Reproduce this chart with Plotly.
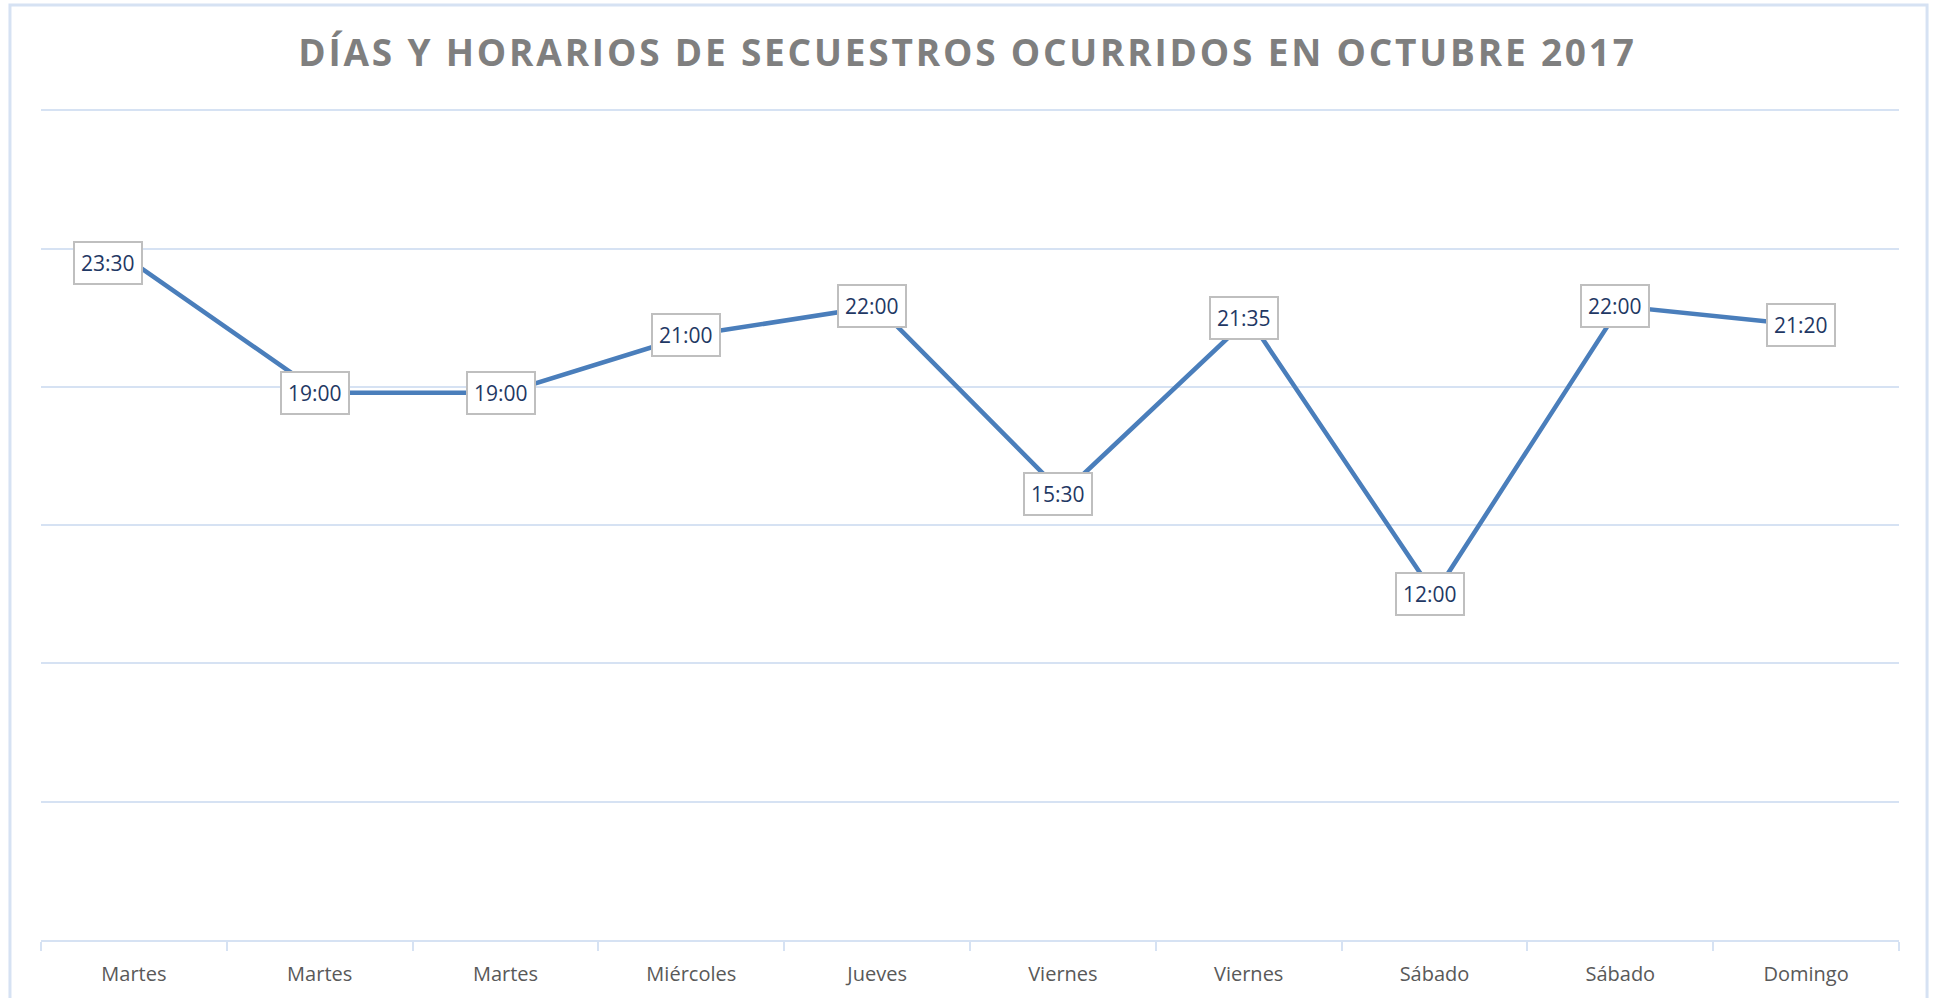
import plotly.graph_objects as go

# days and times of each kidnapping, Oct 2017
dias = ["Martes", "Martes", "Martes", "Miércoles", "Jueves",
        "Viernes", "Viernes", "Sábado", "Sábado", "Domingo"]
horas = ["23:30", "19:00", "19:00", "21:00", "22:00",
         "15:30", "21:35", "12:00", "22:00", "21:20"]

titulo = "DÍAS Y HORARIOS DE SECUESTROS OCURRIDOS EN OCTUBRE 2017"


def a_fraccion_dia(h):
    # Excel stores times as a fraction of a day
    hh, mm = h.split(":")
    return (int(hh) + int(mm) / 60) / 24


x = list(range(len(dias)))
y = [a_fraccion_dia(h) for h in horas]

fig = go.Figure(go.Scatter(
    x=x, y=y,
    mode="lines",
    line=dict(color="#4a7ebb", width=4.5),
    hoverinfo="skip",
))

for i, (xi, yi) in enumerate(zip(x, y)):
    fig.add_annotation(
        x=xi, y=yi, text=horas[i],
        showarrow=False,
        xshift=-26 if i == 0 else -5,
        font=dict(family="Open Sans", size=21, color="#1f3864"),
        bgcolor="white",
        bordercolor="#bfbfbf",
        borderwidth=2,
        borderpad=6,
    )

# light outer frame of the chart
fig.add_shape(type="rect", xref="paper", yref="paper",
              x0=-0.0167, x1=1.0151, y0=-0.1, y1=1.113,
              line=dict(color="#d6e2f3", width=3), layer="below")

fig.update_layout(
    width=1935, height=998,
    margin=dict(l=41, r=36, t=100, b=58),
    paper_bgcolor="white",
    plot_bgcolor="white",
    showlegend=False,
    title=dict(
        text="<b>" + titulo + "</b>",
        x=0.5, xanchor="center",
        y=0.947, yanchor="middle",
        font=dict(family="Open Sans", size=37, color="#7f7f7f"),
    ),
    xaxis=dict(
        range=[-0.5, len(dias) - 0.5],
        tickvals=x, ticktext=dias,
        ticks="",
        showgrid=False,
        showline=True, linecolor="#d6e2f3", linewidth=2,
        tickfont=dict(family="Open Sans", size=20, color="#595959"),
        ticklabelstandoff=15,
        minor=dict(tick0=-0.5, dtick=1, ticks="outside", ticklen=9,
                   tickcolor="#d6e2f3", tickwidth=2, showgrid=False),
        zeroline=False,
        fixedrange=True,
    ),
    yaxis=dict(
        # a bit of headroom so the 1.2 gridline is drawn
        range=[0, 1.215], tick0=0, dtick=0.2,
        showticklabels=False,
        showgrid=True, gridcolor="#d6e2f3", gridwidth=1.5,
        zeroline=False,
        fixedrange=True,
    ),
)

# no page margin, and Excel-like letter spacing on the title
post = """
document.body.style.margin = '0';
var gd = document.getElementById('{plot_id}');
function espaciar() {
    var t = gd.querySelector('.gtitle');
    if (t) { t.style.letterSpacing = '2.8px'; }
}
espaciar();
gd.on('plotly_afterplot', espaciar);
"""

fig.write_html("out.html", post_script=post, config={"displayModeBar": False})
